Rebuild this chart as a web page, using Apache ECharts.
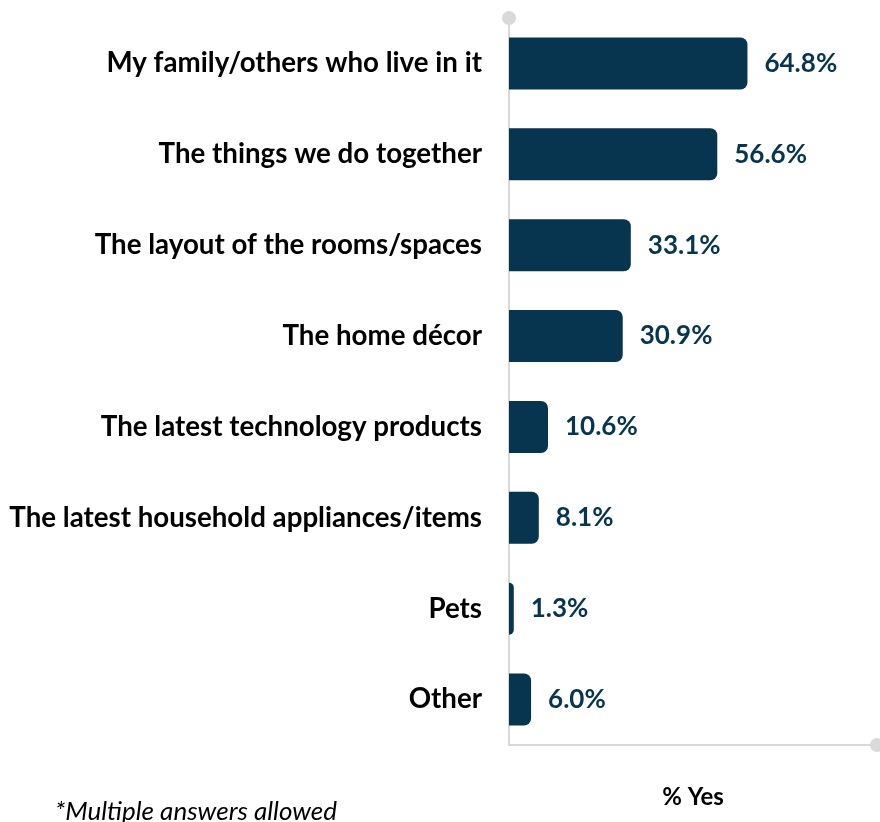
<!DOCTYPE html>
<html><head><meta charset="utf-8">
<script src="https://cdn.jsdelivr.net/npm/echarts@6/dist/echarts.min.js"></script>
<style>html,body{margin:0;padding:0;background:#fff}#c{width:880px;height:822px}</style>
</head><body><div id="c"></div>
<script>
const categories = ["My family/others who live in it","The things we do together","The layout of the rooms/spaces","The home décor","The latest technology products","The latest household appliances/items","Pets","Other"];
const values = [64.8, 56.6, 33.1, 30.9, 10.6, 8.1, 1.3, 6.0];
const axisName = "% Yes";
const footnote = "*Multiple answers allowed";
const chart = echarts.init(document.getElementById('c'));
chart.setOption({
  animation:false,
  grid:{left:509,right:3,top:18,bottom:77},
  xAxis:{type:'value',min:0,max:100,
    axisLine:{show:true,symbol:['none','circle'],symbolSize:[14,14],lineStyle:{color:'#d9d9d9',width:2}},
    axisTick:{show:false},axisLabel:{show:false},splitLine:{show:false},
    name:axisName,nameLocation:'middle',nameGap:40,
    nameTextStyle:{fontFamily:'Lato',fontWeight:'bold',fontSize:24,color:'#000'}},
  yAxis:{type:'category',data:categories,inverse:true,
    axisLine:{show:true,symbol:['none','circle'],symbolSize:[14,14],lineStyle:{color:'#d9d9d9',width:2}},
    axisTick:{show:false},
    axisLabel:{margin:27,fontFamily:'Lato',fontWeight:'bold',fontSize:27.7,color:'#000'}},
  graphic:[{type:'text',left:55,top:799,style:{text:footnote,font:'italic 26px Lato',fill:'#000'}}],
  series:[{type:'bar',data:values,barWidth:52,
    itemStyle:{color:'#07354f',borderRadius:[0,7,7,0]},
    label:{show:true,position:'right',distance:17,formatter:p=>p.value.toFixed(1)+'%',
      fontFamily:'Lato',fontWeight:'bold',fontSize:26,color:'#07354f'}}]
});
</script></body></html>
